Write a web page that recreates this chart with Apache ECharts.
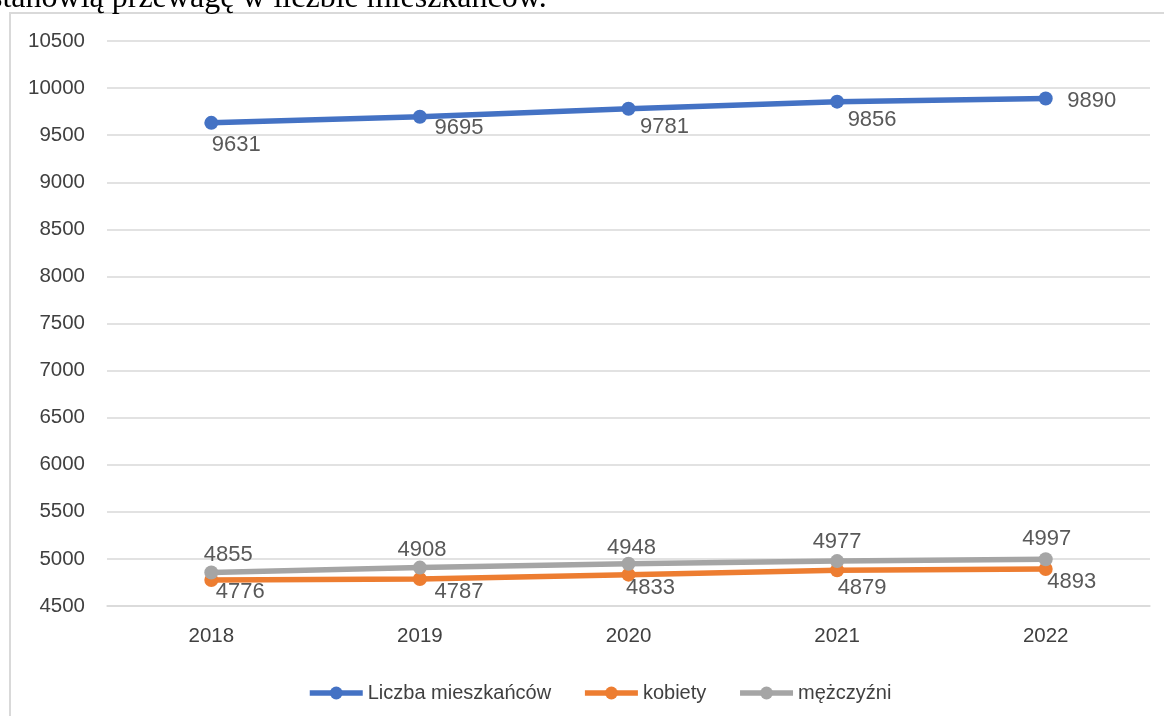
<!DOCTYPE html>
<html>
<head>
<meta charset="utf-8">
<script src="https://cdn.jsdelivr.net/npm/echarts@6/dist/echarts.min.js"></script>
<style>
html,body{margin:0;padding:0;background:#fff;}
#main{width:1164px;height:716px;}
</style>
</head>
<body>
<div id="main"></div>
<script>
const years = ['2018', '2019', '2020', '2021', '2022'];
const seriesNames = ['Liczba mieszkańców', 'kobiety', 'mężczyźni'];
const total = [9631, 9695, 9781, 9856, 9890];
const women = [4776, 4787, 4833, 4879, 4893];
const men = [4855, 4908, 4948, 4977, 4997];
const yMin = 4500, yMax = 10500, yStep = 500;
const headerText = 'stanowią przewagę w liczbie mieszkańców.';

// label offsets (style only)
const totalLabelOffsets = [[25, 22], [39, 11], [36, 18], [35, 18], [46, 2]];
const womenLabelOffsets = [[29, 12], [39, 13], [22, 13], [25, 18], [26, 13]];
const menLabelOffsets = [[17, -18], [2, -18], [3, -16], [0, -19], [1, -20]];

const colors = ['#4472C4', '#ED7D31', '#A5A5A5'];
const FONT = '"Liberation Sans", Arial, sans-serif';

function mk(vals, offs) {
  return vals.map((v, i) => ({ value: v, label: { offset: offs[i] } }));
}
function series(name, vals, offs, color, z) {
  return {
    name: name,
    type: 'line',
    data: mk(vals, offs),
    z: z,
    symbol: 'circle',
    symbolSize: 14,
    lineStyle: { width: 5.5, color: color },
    itemStyle: { color: color },
    label: {
      show: true,
      position: 'inside',
      color: '#595959',
      fontSize: 22,
      fontFamily: FONT
    },
    emphasis: { disabled: true },
    animation: false
  };
}

const chart = echarts.init(document.getElementById('main'), null, { renderer: 'canvas' });
chart.setOption({
  backgroundColor: '#ffffff',
  animation: false,
  grid: { left: 107, right: 14, top: 41, bottom: 110, containLabel: false },
  graphic: [
    {
      type: 'rect',
      shape: { x: 10, y: 13, width: 1300, height: 900 },
      style: { fill: 'none', stroke: '#d9d9d9', lineWidth: 2 },
      silent: true
    },
    {
      type: 'text',
      x: -10, y: -1,
      style: {
        text: headerText,
        font: '32px "Liberation Serif", "Times New Roman", serif',
        fill: '#000000',
        textVerticalAlign: 'middle'
      },
      silent: true
    }
  ],
  legend: {
    left: 302,
    top: 678,
    itemWidth: 53,
    itemHeight: 16,
    itemGap: 31,
    lineStyle: { width: 5.5 },
    textStyle: { color: '#404040', fontSize: 20, fontFamily: FONT },
    data: seriesNames
  },
  xAxis: {
    type: 'category',
    data: years,
    boundaryGap: true,
    axisLine: { show: true, lineStyle: { color: '#d9d9d9', width: 1.5 } },
    axisTick: { show: false },
    axisLabel: { color: '#404040', fontSize: 20.5, fontFamily: FONT, margin: 20 }
  },
  yAxis: {
    type: 'value',
    min: yMin,
    max: yMax,
    interval: yStep,
    axisLine: { show: false },
    axisTick: { show: false },
    splitLine: { lineStyle: { color: '#d9d9d9', width: 1.5 } },
    axisLabel: {
      color: '#404040', fontSize: 20.5, fontFamily: FONT, margin: 22,
      formatter: function (v) { return String(v); }
    }
  },
  series: [
    series(seriesNames[0], total, totalLabelOffsets, colors[0], 3),
    series(seriesNames[1], women, womenLabelOffsets, colors[1], 2),
    series(seriesNames[2], men, menLabelOffsets, colors[2], 4)
  ]
});
</script>
</body>
</html>
